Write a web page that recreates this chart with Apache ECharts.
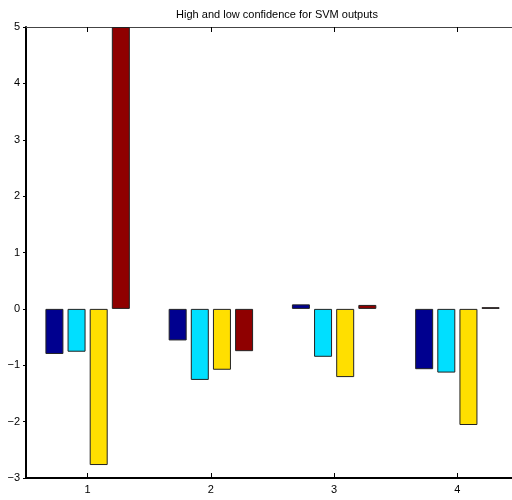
<!DOCTYPE html>
<html lang="en">
<head>
    <meta charset="UTF-8">
    <title>SVM outputs</title>
    <style>
        body{ margin:0; background:#fff; }
        .dis{ width:512px; height:500px; }
    </style>
    <script src="https://cdn.jsdelivr.net/npm/echarts@6/dist/echarts.min.js"></script>
</head>
<body>
<div class="dis"></div>
<script>
    // data
    var categories = ["1", "2", "3", "4"];
    var bar_blue = [-0.80, -0.56, 0.08, -1.07];
    var bar_cyan = [-0.76, -1.26, -0.85, -1.13];
    var bar_yellow = [-2.77, -1.08, -1.21, -2.06];
    var bar_red = [5, -0.75, 0.07, 0.03];
    var colors = ["#00008F", "#00DFFF", "#FFDF00", "#8F0000"];

    var dis = document.getElementsByClassName("dis")[0];
    var my_dis = echarts.init(dis);

    function mkSeries(name, data, c) {
        return {
            name: name,
            type: "bar",
            data: data,
            barWidth: 18,
            barGap: "23%",
            itemStyle: { color: c, borderColor: "#222", borderWidth: 1 }
        };
    }

    var tickStyle = { show: true, inside: true, length: 5, alignWithLabel: true, lineStyle: { color: "#000" } };

    var option = {
        animation: false,
        title: {
            text: "High and low confidence for SVM outputs",
            left: 272, top: 4, textAlign: "center",
            textStyle: { fontFamily: "Liberation Sans", fontSize: 11, fontWeight: "normal", color: "#000" }
        },
        // plot box runs past the right edge of the picture (cropped like the original)
        grid: { left: 26, width: 493, top: 27, bottom: 22, outerBoundsMode: "none", containLabel: false },
        xAxis: [{
            type: "category",
            data: categories,
            position: "bottom",
            axisLine: { onZero: false, lineStyle: { color: "#000", width: 2 } },
            axisTick: tickStyle,
            axisLabel: { fontFamily: "Liberation Sans", fontSize: 11, color: "#000", margin: 6 }
        }, {
            type: "category",
            data: categories,
            position: "top",
            axisLine: { onZero: false, lineStyle: { color: "#444", width: 1 } },
            axisTick: tickStyle,
            axisLabel: { show: false }
        }],
        yAxis: {
            type: "value",
            min: -3, max: 5, interval: 1,
            axisLine: { show: true, lineStyle: { color: "#000", width: 2 } },
            axisTick: { show: true, inside: false, length: 3, lineStyle: { color: "#000" } },
            splitLine: { show: false },
            axisLabel: {
                fontFamily: "Liberation Sans", fontSize: 11, color: "#000", margin: 6,
                formatter: function (v) { return String(v).replace("-", "\u2212"); }
            }
        },
        series: [
            mkSeries("s1", bar_blue, colors[0]),
            mkSeries("s2", bar_cyan, colors[1]),
            mkSeries("s3", bar_yellow, colors[2]),
            mkSeries("s4", bar_red, colors[3])
        ]
    };
    my_dis.setOption(option);
</script>
</body>
</html>
